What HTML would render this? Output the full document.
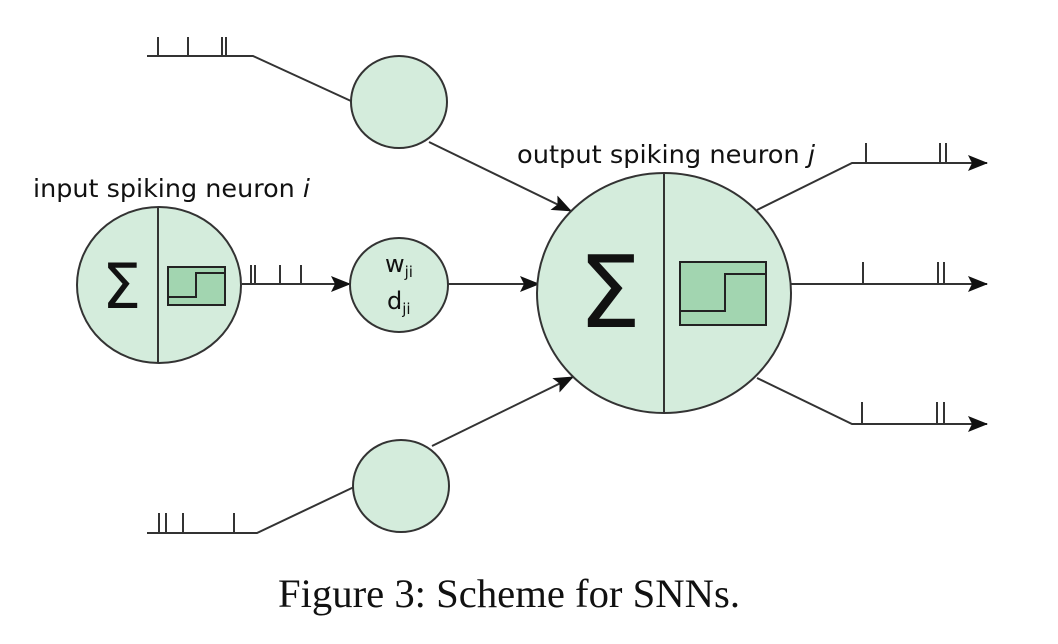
<!DOCTYPE html>
<html><head><meta charset="utf-8"><style>
html,body{margin:0;padding:0;background:#fff;}
svg{display:block;}
</style></head><body>
<svg width="1058" height="644" viewBox="0 0 1058 644" xmlns="http://www.w3.org/2000/svg">
<defs>
<marker id="b" markerWidth="20" markerHeight="16" refX="19" refY="8" orient="auto" markerUnits="userSpaceOnUse" viewBox="0 0 20 16">
<path d="M0,0 L20,8 L0,16 L4,8 z" fill="#111"/>
</marker>
</defs>
<g stroke="#333" stroke-width="2" fill="none">
<polyline points="147,56 253,56 351,101"/>
<line x1="158" y1="37" x2="158" y2="56"/><line x1="188" y1="37" x2="188" y2="56"/>
<line x1="222" y1="37" x2="222" y2="56"/><line x1="226" y1="37" x2="226" y2="56"/>
<line x1="429" y1="142" x2="571" y2="211" marker-end="url(#b)"/>
<polyline points="147,533 257,533 354,487"/>
<line x1="159" y1="513" x2="159" y2="533"/><line x1="166" y1="513" x2="166" y2="533"/>
<line x1="183" y1="513" x2="183" y2="533"/><line x1="234" y1="513" x2="234" y2="533"/>
<line x1="432" y1="446" x2="573" y2="377" marker-end="url(#b)"/>
<line x1="242" y1="284" x2="350" y2="284" marker-end="url(#b)"/>
<line x1="251" y1="265" x2="251" y2="284"/><line x1="255" y1="265" x2="255" y2="284"/>
<line x1="280" y1="265" x2="280" y2="284"/><line x1="301" y1="265" x2="301" y2="284"/>
<line x1="448" y1="284" x2="539" y2="284" marker-end="url(#b)"/>
<polyline points="757,210 852,163 987,163" marker-end="url(#b)"/>
<line x1="866" y1="143" x2="866" y2="163"/><line x1="940" y1="143" x2="940" y2="163"/><line x1="946" y1="143" x2="946" y2="163"/>
<line x1="790" y1="284" x2="987" y2="284" marker-end="url(#b)"/>
<line x1="863" y1="262" x2="863" y2="284"/><line x1="938" y1="262" x2="938" y2="284"/><line x1="944" y1="262" x2="944" y2="284"/>
<polyline points="757,378 852,424 987,424" marker-end="url(#b)"/>
<line x1="862" y1="402" x2="862" y2="424"/><line x1="937" y1="402" x2="937" y2="424"/><line x1="944" y1="402" x2="944" y2="424"/>
</g>
<g fill="#d4ecdc" stroke="#333" stroke-width="2">
<ellipse cx="399" cy="102" rx="48" ry="46"/>
<ellipse cx="401" cy="486" rx="48" ry="46"/>
<ellipse cx="399" cy="285" rx="49" ry="47"/>
<ellipse cx="159" cy="285" rx="82" ry="78"/>
<ellipse cx="664" cy="293" rx="127" ry="120"/>
</g>
<g stroke="#333" stroke-width="2">
<line x1="158" y1="208" x2="158" y2="363"/>
<line x1="664" y1="173" x2="664" y2="413"/>
</g>
<g fill="#a2d5b0" stroke="#222" stroke-width="2">
<rect x="168" y="267" width="57" height="38"/>
<rect x="680" y="262" width="86" height="63"/>
</g>
<g fill="none" stroke="#222" stroke-width="2">
<polyline points="168,297 196,297 196,273 225,273"/>
<polyline points="680,311 725,311 725,274 766,274"/>
</g>
<g font-family="'DejaVu Sans', 'Liberation Sans', sans-serif" fill="#111">
<text x="33" y="197" font-size="25" textLength="277" lengthAdjust="spacingAndGlyphs">input spiking neuron <tspan font-style="italic">i</tspan></text>
<text x="517" y="163" font-size="25" textLength="298" lengthAdjust="spacingAndGlyphs">output spiking neuron <tspan font-style="italic">j</tspan></text>
<text x="102" y="308" font-size="62">Σ</text>
<text x="578" y="327" font-size="100">Σ</text>
<text x="385" y="272" font-size="24">w<tspan font-size="15" dy="5">ji</tspan></text>
<text x="387" y="309" font-size="24">d<tspan font-size="15" dy="5">ji</tspan></text>
</g>
<text x="509" y="607" text-anchor="middle" font-family="'Liberation Serif', serif" font-size="40" fill="#111" textLength="462" lengthAdjust="spacingAndGlyphs">Figure 3: Scheme for SNNs.</text>
</svg>
</body></html>
